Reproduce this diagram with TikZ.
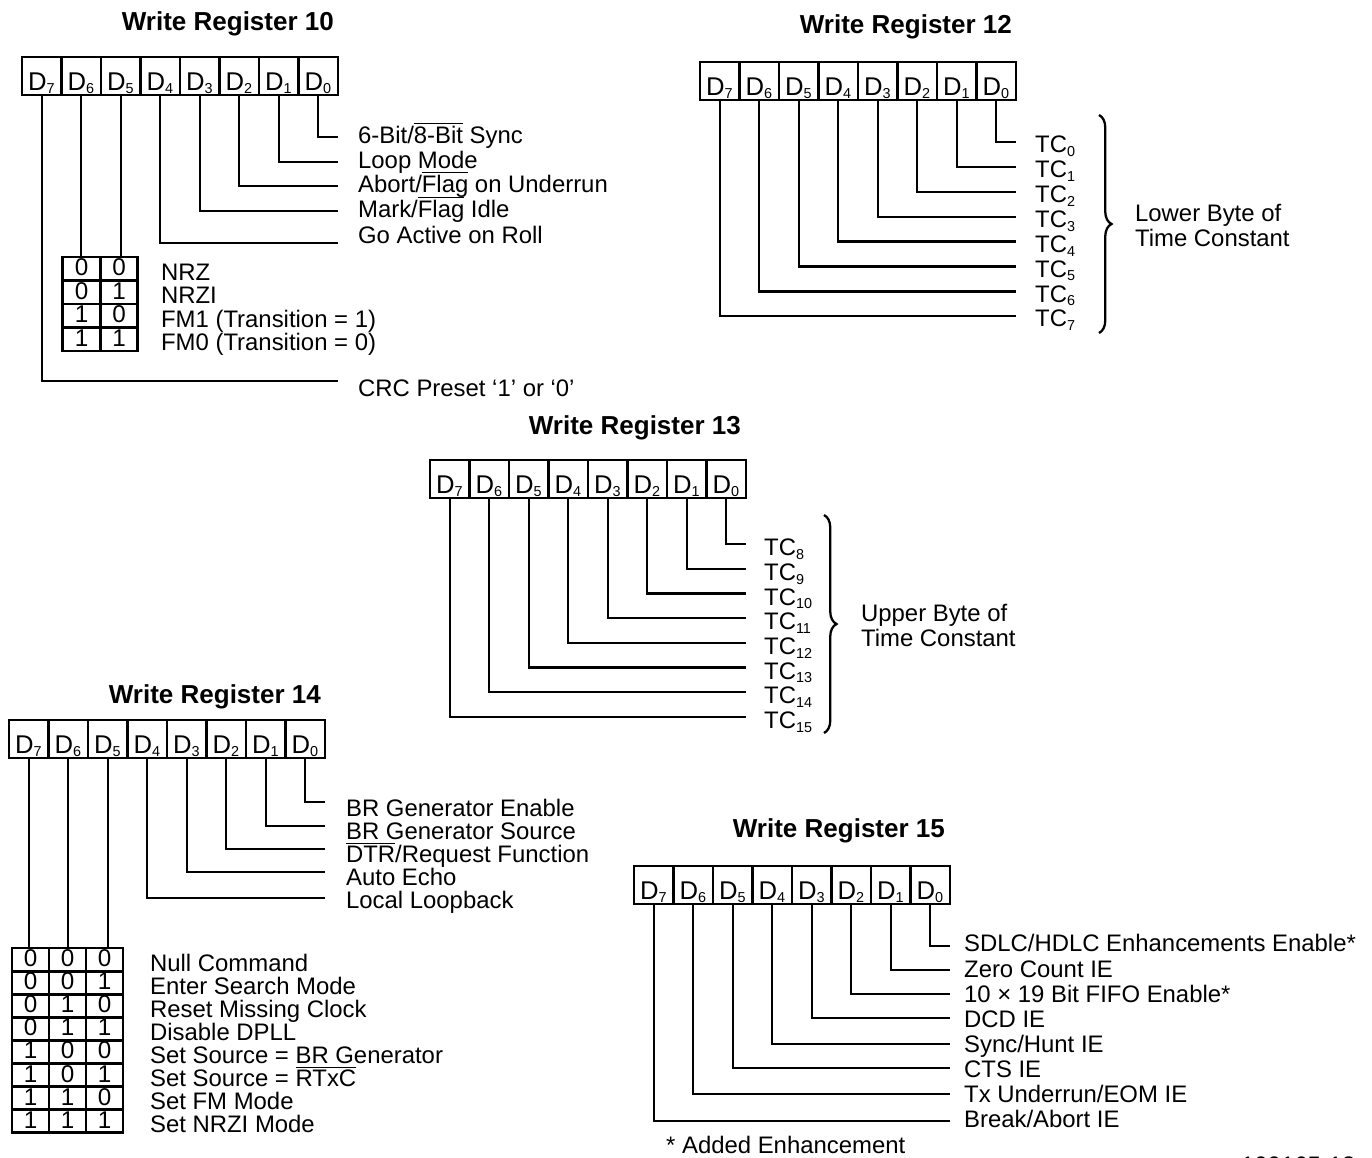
\documentclass[tikz,border=0pt]{standalone}
\usepackage{fontspec}
\setmainfont{Liberation Sans}
\usetikzlibrary{positioning,decorations.pathreplacing}

\newcommand{\ovl}[1]{$\overline{\mbox{#1}}$}
\newcommand{\bitsub}[1]{\textsubscript{\fontsize{8.2}{9}\selectfont #1}}

\begin{document}
\begin{tikzpicture}[x=0.02cm,y=-0.02cm,line width=1.3pt,
    title/.style={anchor=base east,inner sep=0pt,font=\fontsize{14.8}{17}\selectfont\bfseries},
    bitcell/.style={rectangle,draw,line width=1.6pt,minimum width=0.79cm,minimum height=0.76cm,inner sep=0pt,outer sep=0pt,text height=0.66cm,text depth=0.1cm,font=\fontsize{14.6}{16}\selectfont},
    tcell/.style={rectangle,draw,line width=1.6pt,inner sep=0pt,outer sep=0pt,text height=0.36cm,text depth=0.08cm,font=\fontsize{13.8}{16}\selectfont},
    lbl/.style={anchor=west,inner sep=0pt,text height=0.344cm,text depth=0pt,font=\fontsize{13.6}{16}\selectfont},
    brtext/.style={anchor=west,align=left,inner sep=0pt,font=\fontsize{13.6}{14.2}\selectfont},
    bracket/.style={decorate,decoration={brace,amplitude=0.25cm}}]
  \useasboundingbox (0,0) rectangle (1372,1157);

  % register boxes D7..D0
  \foreach \reg/\bx/\by in {10/22/57, 12/700/62, 13/430/460, 14/9/720, 15/634/866}{
    \foreach \b [count=\i from 0] in {7,6,...,0}
      \node[bitcell] (r\reg d\b) at ({\bx+39.5*(\i+0.5)},{\by+19}) {D\bitsub{\b}};
  }

  % Write Register 10
  \node[title] (r10title) at (335,30) {Write Register 10};
  \foreach \b/\ly in {0/137, 1/162, 2/186, 3/211, 4/243, 7/381}{
    \coordinate (r10e\b) at (338,\ly);
    \draw (r10d\b.south) |- (r10e\b);
  }
  \node[lbl] (r10l0) at (357,135) {6-Bit/\ovl{8-Bit} Sync};
  \node[lbl] (r10l1) at (357,160) {Loop Mode};
  \node[lbl] (r10l2) at (357,184) {Abort/\ovl{Flag} on Underrun};
  \node[lbl] (r10l3) at (357,209) {Mark/\ovl{Flag} Idle};
  \node[lbl] (r10l4) at (357,235) {Go Active on Roll};
  \node[lbl] (r10l7) at (357,388) {CRC Preset ‘1’ or ‘0’};
  \foreach \ca/\cb/\txt [count=\row] in {0/0/NRZ, 0/1/NRZI, 1/0/{FM1 (Transition = 1)}, 1/1/{FM0 (Transition = 0)}}{
    \node[tcell,minimum width=0.75cm,minimum height=0.47cm] (r10t\row a) at (81.5,{245.25+23.5*\row}) {\ca};
    \node[tcell,minimum width=0.75cm,minimum height=0.47cm] (r10t\row b) at (119,{245.25+23.5*\row}) {\cb};
    \node[lbl] (r10m\row) at (160,{248.25+23.5*\row}) {\txt};
  }
  \draw (r10d6.south) -- (r10d6.south |- r10t1a.north);
  \draw (r10d5.south) -- (r10d5.south |- r10t1b.north);

  % Write Register 12
  \node[title] (r12title) at (1013,33) {Write Register 12};
  \foreach \k in {0,...,7}{
    \coordinate (r12e\k) at (1016,{142+24.9*\k});
    \draw (r12d\k.south) |- (r12e\k);
    \node[lbl] (r12l\k) at (1034,{144+24.9*\k}) {TC\bitsub{\k}};
  }
  \draw[bracket] (1099,115) coordinate (r12top) -- (1099,333) coordinate (r12bot);
  \node[brtext] (r12byte) at (1134,225.5) {Lower Byte of\\Time Constant};

  % Write Register 13
  \node[title] (r13title) at (742,434) {Write Register 13};
  \foreach \k [evaluate=\k as \t using int(\k+8)] in {0,...,7}{
    \coordinate (r13e\k) at (746,{544+24.7*\k});
    \draw (r13d\k.south) |- (r13e\k);
    \node[lbl] (r13l\k) at (763,{547+24.7*\k}) {TC\bitsub{\t}};
  }
  \draw[bracket] (824,515) coordinate (r13top) -- (824,733) coordinate (r13bot);
  \node[brtext] (r13byte) at (860,625.5) {Upper Byte of\\Time Constant};

  % Write Register 14
  \node[title] (r14title) at (322,703) {Write Register 14};
  \foreach \b/\ly in {0/802, 1/826, 2/849, 3/872, 4/898}{
    \coordinate (r14e\b) at (325,\ly);
    \draw (r14d\b.south) |- (r14e\b);
  }
  \node[lbl] (r14l0) at (345,808) {BR Generator Enable};
  \node[lbl] (r14l1) at (345,831) {BR Generator Source};
  \node[lbl] (r14l2) at (345,854) {\ovl{DTR}/Request Function};
  \node[lbl] (r14l3) at (345,877) {Auto Echo};
  \node[lbl] (r14l4) at (345,900) {Local Loopback};
  \foreach \ca/\cb/\cc/\txt [count=\row] in {0/0/0/Null Command, 0/0/1/Enter Search Mode, 0/1/0/Reset Missing Clock, 0/1/1/Disable DPLL,
      1/0/0/{Set Source = BR Generator}, 1/0/1/{Set Source = \ovl{RTxC}}, 1/1/0/Set FM Mode, 1/1/1/Set NRZI Mode}{
    \node[tcell,minimum width=0.74cm,minimum height=0.462cm] (r14t\row a) at (30.5,{936.45+23.1*\row}) {\ca};
    \node[tcell,minimum width=0.74cm,minimum height=0.462cm] (r14t\row b) at (67.5,{936.45+23.1*\row}) {\cb};
    \node[tcell,minimum width=0.74cm,minimum height=0.462cm] (r14t\row c) at (104.5,{936.45+23.1*\row}) {\cc};
    \node[lbl] (r14m\row) at (149,{939.45+23.1*\row}) {\txt};
  }
  \draw (r14d7.south) -- (r14d7.south |- r14t1a.north);
  \draw (r14d6.south) -- (r14d6.south |- r14t1b.north);
  \draw (r14d5.south) -- (r14d5.south |- r14t1c.north);

  % Write Register 15
  \node[title] (r15title) at (946,837) {Write Register 15};
  \foreach \b/\ly in {0/946, 1/970, 2/994, 3/1018, 4/1044, 5/1068, 6/1094, 7/1121}{
    \coordinate (r15e\b) at (950,\ly);
    \draw (r15d\b.south) |- (r15e\b);
  }
  \node[lbl] (r15l0) at (963,943) {SDLC/HDLC Enhancements Enable*};
  \node[lbl] (r15l1) at (963,969) {Zero Count IE};
  \node[lbl] (r15l2) at (963,994) {10 × 19 Bit FIFO Enable*};
  \node[lbl] (r15l3) at (963,1019) {DCD IE};
  \node[lbl] (r15l4) at (963,1044) {Sync/Hunt IE};
  \node[lbl] (r15l5) at (963,1069) {CTS IE};
  \node[lbl] (r15l6) at (963,1094) {Tx Underrun/EOM IE};
  \node[lbl] (r15l7) at (963,1119) {Break/Abort IE};
  \node[lbl] (r15note) at (665,1145) {* Added Enhancement};
  \node[lbl] (figno) at (1240,1165) {100165-18};
\end{tikzpicture}
\end{document}
